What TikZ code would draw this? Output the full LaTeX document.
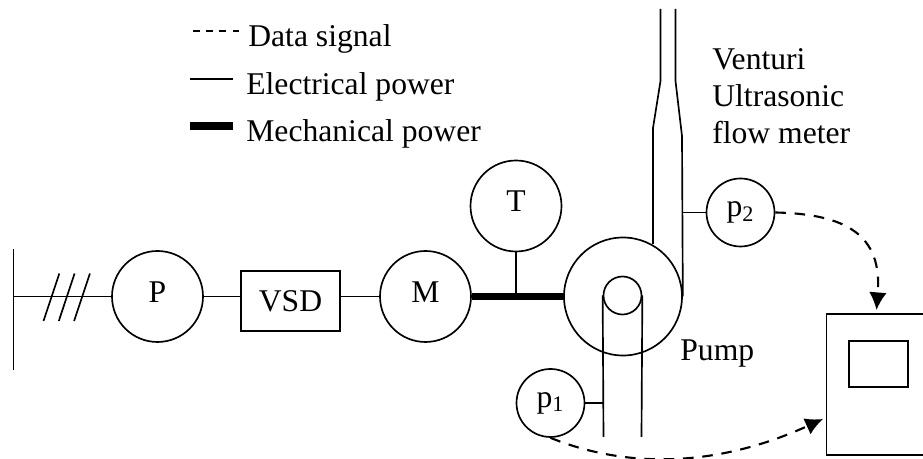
\documentclass[tikz,border=0pt]{standalone}
\usepackage{fontspec}
\setmainfont{Liberation Serif}
\usetikzlibrary{arrows.meta}
\tikzset{
  wire/.style={line width=0.95pt},
  shaft/.style={line width=4pt},
  datasignal/.style={line width=1.2pt,dash pattern=on 6pt off 5pt,-{Latex[length=10pt,width=10pt]}},
  legenddash/.style={line width=0.6pt,dash pattern=on 4pt off 3.5pt},
  bigmachine/.style={draw,wire,circle,minimum size=1.82cm,inner sep=0pt,text depth=5pt},
  sensor/.style={draw,wire,circle,minimum size=1.36cm,inner sep=0pt},
  caption/.style={inner sep=0pt,anchor=base west,align=left}
}
\begin{document}
\begin{tikzpicture}[font=\fontsize{18}{21.3}\selectfont]
\useasboundingbox (0,0) rectangle (18.46,9.18);
% legend
\coordinate (dashA) at (3.86,8.56);
\coordinate (dashB) at (4.78,8.56);
\coordinate (lineA) at (3.8,7.6);
\coordinate (lineB) at (4.66,7.6);
\coordinate (thickA) at (3.8,6.66);
\coordinate (thickB) at (4.66,6.66);
\draw [legenddash] (dashA)--(dashB);
\draw [wire] (lineA)--(lineB);
\draw [shaft] (thickA)--(thickB);
\node [caption] (datatext) at (4.96,8.24) {Data signal};
\node [caption] (elecrtext) at (4.92,7.28) {Electrical power};
\node [caption] (mechtext) at (4.92,6.34) {Mechanical power};
% drive line
\coordinate (busT) at (.27,4.2);
\coordinate (busB) at (.27,1.78);
\draw [wire] (busT)--(busB);
\node [bigmachine] (P) at (3.15,3.25) {P};
\node [draw,wire,minimum width=1.98cm,minimum height=1.2cm,inner sep=0pt] (VSD) at (5.81,3.16) {VSD};
\node [bigmachine] (M) at (8.51,3.25) {M};
\node [bigmachine] (T) at (10.32,5.06) {T};
\node [draw,wire,circle,minimum size=2.36cm,inner sep=0pt] (pump) at (12.46,3.25) {};
\node [draw,wire,circle,minimum size=.76cm,inner sep=0pt] (eye) at (12.45,3.27) {};
\draw [wire] (busT |- P)--(P);
\draw [wire] (P)--(P -| VSD.west);
\draw [wire] (P -| VSD.east)--(M);
\draw [shaft] (M)--(pump);
\draw [wire] (T)--(T |- M);
\foreach \s in {0,.306,.612}
  \draw [wire] (.87+\s,2.76)--(1.186+\s,3.71);
% suction pipe
\coordinate (inL) at (12.07,.44);
\coordinate (inR) at (12.83,.44);
\draw [wire] (eye.west)--(inL);
\draw [wire] (eye.east)--(inR);
\node [sensor] (pone) at (11.01,1.12) {p\textsubscript{1}};
\draw [wire] (pone)--(pone -| inL);
% venturi
\coordinate (topL) at (13.21,9);
\coordinate (topR) at (13.51,9);
\draw [wire] (topL)--(13.21,7.56)--(13.06,6.62)--(13.06,4.3);
\draw [wire] (topR)--(13.51,7.56)--(13.64,6.46)--(pump.east);
\node [sensor] (ptwo) at (14.81,4.93) {p\textsubscript{2}};
\draw [wire] (ptwo)--(ptwo -| 13.64,0);
\node [caption] (venturitext) at (14.24,6.3) {Venturi\\Ultrasonic\\flow meter};
\node [caption] (pumptext) at (13.6,1.96) {Pump};
% computer
\node [draw,wire,minimum width=2.4cm,minimum height=2.82cm,anchor=north west,inner sep=0pt] (box) at (16.51,2.92) {};
\node [draw,wire,minimum width=1.18cm,minimum height=.92cm,inner sep=0pt] (screen) at (17.57,1.9) {};
\coordinate (boxtop) at (17.53,2.98);
\coordinate (boxside) at (16.46,.8);
\draw [datasignal] (ptwo.east) .. controls (16.9,4.9) and (17.65,4.5) .. (boxtop);
\draw [datasignal] (pone.south) .. controls (12.6,-.22) and (14.4,-.14) .. (boxside);
\end{tikzpicture}
\end{document}
